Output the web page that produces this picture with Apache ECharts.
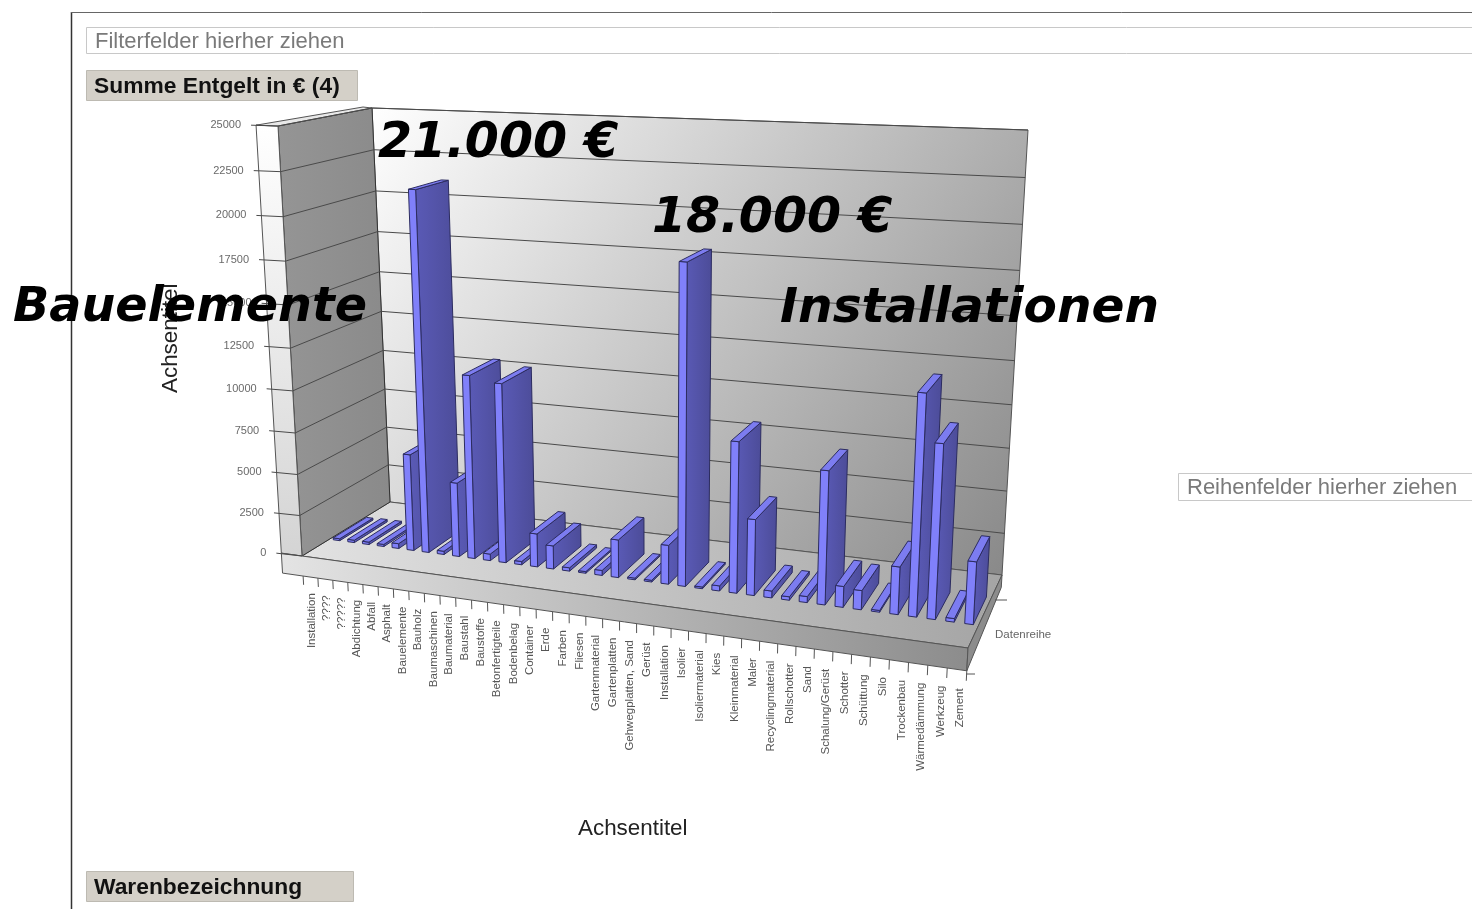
<!DOCTYPE html>
<html>
<head>
<meta charset="utf-8">
<title>Summe Entgelt</title>
<script src="https://cdn.jsdelivr.net/npm/echarts@6/dist/echarts.min.js"></script>
<style>
  html, body { margin: 0; padding: 0; background: #fff; overflow: hidden; }
  #chart { width: 1472px; height: 909px; }
</style>
</head>
<body>
<div id="chart"></div>
<script>
var categories = ['Installation', '????', '?????', 'Abdichtung', 'Abfall', 'Asphalt', 'Bauelemente', 'Bauholz',
  'Baumaschinen', 'Baumaterial', 'Baustahl', 'Baustoffe', 'Betonfertigteile', 'Bodenbelag', 'Container', 'Erde',
  'Farben', 'Fliesen', 'Gartenmaterial', 'Gartenplatten', 'Gehwegplatten, Sand', 'Gerüst', 'Installation', 'Isolier',
  'Isoliermaterial', 'Kies', 'Kleinmaterial', 'Maler', 'Recyclingmaterial', 'Rollschotter', 'Sand', 'Schalung/Gerüst',
  'Schotter', 'Schüttung', 'Silo', 'Trockenbau', 'Wärmedämmung', 'Werkzeug', 'Zement'];
var entgelt = [120, 150, 150, 130, 300, 5900, 21400, 200, 4500, 11000, 400, 10700, 200, 2000, 1400, 200,
  100, 300, 2250, 100, 100, 2300, 18300, 100, 300, 8700, 4400, 400, 200, 350, 7600, 1200,
  1100, 100, 2700, 12300, 9700, 200, 3500];
var yTicks = [0, 2500, 5000, 7500, 10000, 12500, 15000, 17500, 20000, 22500, 25000];

// corners of the chart box on screen: [u0v0, u1v0, u1v1, u0v1]
var frontQuad = [[302, 556], [968, 648], [994, 153], [278, 126]];
var backQuad = [[390, 502], [1002, 575], [1028, 130], [372, 108]];
var barDepth = [0.31, 0.69];
var barWidth = 0.45;
var stripU = -0.036;
var slabV = -0.05;

function makeHomography(q) {
  var dx1 = q[1][0] - q[2][0], dx2 = q[3][0] - q[2][0], sx = q[0][0] - q[1][0] + q[2][0] - q[3][0];
  var dy1 = q[1][1] - q[2][1], dy2 = q[3][1] - q[2][1], sy = q[0][1] - q[1][1] + q[2][1] - q[3][1];
  var den = dx1 * dy2 - dx2 * dy1;
  var g = (sx * dy2 - dx2 * sy) / den, h = (dx1 * sy - sx * dy1) / den;
  var a = q[1][0] - q[0][0] + g * q[1][0], b = q[3][0] - q[0][0] + h * q[3][0], c = q[0][0];
  var d = q[1][1] - q[0][1] + g * q[1][1], e = q[3][1] - q[0][1] + h * q[3][1], f = q[0][1];
  return function (u, v) {
    var w = g * u + h * v + 1;
    return [(a * u + b * v + c) / w, (d * u + e * v + f) / w];
  };
}
var front = makeHomography(frontQuad);
var back = makeHomography(backQuad);

// u along the categories, v up the value axis, t from front to back
function proj(u, v, t) {
  var p = front(u, v), q = back(u, v);
  return [p[0] + (q[0] - p[0]) * t, p[1] + (q[1] - p[1]) * t];
}
function grad(x, y, x2, y2, c1, c2) {
  return new echarts.graphic.LinearGradient(x, y, x2, y2, [{ offset: 0, color: c1 }, { offset: 1, color: c2 }]);
}
function poly(points, fill, stroke) {
  return { type: 'polygon', shape: { points: points }, style: { fill: fill, stroke: stroke || '#555', lineWidth: 1 } };
}
function line(points, color, width) {
  return { type: 'polyline', shape: { points: points }, style: { fill: null, stroke: color || '#555', lineWidth: width || 1 } };
}
function uiText(text, x, y, font, color) {
  return { type: 'text', z: 100, x: x, y: y, style: { text: text, font: font, fill: color, textVerticalAlign: 'middle' } };
}
function uiRect(x, y, w, h, fill, stroke) {
  return { type: 'rect', z: 99, shape: { x: x, y: y, width: w, height: h }, style: { fill: fill, stroke: stroke, lineWidth: 1 } };
}
function bigText(text, x, y, size) {
  return { type: 'text', z: 110, x: x, y: y, style: { text: text, font: 'italic bold ' + size + 'px "DejaVu Sans"', fill: '#000', textVerticalAlign: 'middle' } };
}

function renderFrame(params, api) {
  var cs = params.coordSys;
  var children = [];
  var vOf = function (value) { return 1 - (api.coord([0, value])[1] - cs.y) / cs.height; };

  children.push(poly([proj(0, 1, 1), proj(1, 1, 1), proj(1, 0, 1), proj(0, 0, 1)],
    grad(0, 0, 1, 1, '#ffffff', '#868686'), '#555'));
  children.push(poly([proj(0, 0, 0), proj(0, 0, 1), proj(1, 0, 1), proj(1, 0, 0)],
    grad(0, 0, 1, 0, '#e2e2e2', '#a4a4a4'), '#555'));
  children.push(poly([proj(0, 0, 0), proj(0, 1, 0), proj(0, 1, 1), proj(0, 0, 1)],
    grad(0, 0, 1, 0, '#959595', '#8a8a8a'), '#333'));
  children.push(poly([proj(stripU, 1, 0), proj(0, 1, 0), proj(0, 0, 0), proj(stripU, 0, 0)],
    grad(0, 0, 0, 1, '#ffffff', '#d4d4d4'), '#555'));
  children.push(poly([proj(stripU, 1, 0), proj(0, 1, 0), proj(0, 1, 1), [363, 107]], '#e8e8e8', '#555'));
  children.push(poly([proj(stripU, 0, 0), proj(1, 0, 0), proj(1, slabV, 0), proj(stripU, slabV, 0)],
    grad(0, 0, 1, 0, '#e4e4e4', '#8c8c8c'), '#555'));
  children.push(poly([proj(1, 0, 0), proj(1, 0, 1), proj(1, -0.03, 1), proj(1, slabV, 0)], '#8c8c8c', '#555'));

  yTicks.forEach(function (tick) {
    var v = vOf(tick);
    var edge = proj(stripU, v, 0);
    if (tick > 0) {
      children.push(line([proj(0, v, 0), proj(0, v, 1), proj(1, v, 1)], '#4a4a4a'));
    }
    children.push(line([[edge[0] - 5, edge[1]], proj(0, v, 0)], '#4a4a4a'));
    children.push({
      type: 'text', x: edge[0] - 15, y: edge[1],
      style: { text: String(tick), font: '11px "Liberation Sans"', fill: '#6a6a6a', textAlign: 'right', textVerticalAlign: 'middle' }
    });
  });

  var n = categories.length;
  for (var i = 0; i <= n; i++) {
    var tu = i / n;
    children.push(line([proj(tu, slabV, 0), proj(tu, slabV - 0.022, 0)], '#555'));
  }
  categories.forEach(function (name, idx) {
    var u = (api.coord([idx, 0])[0] - cs.x) / cs.width;
    var p = proj(u, slabV, 0);
    children.push({
      type: 'text', x: p[0] + 1 + 2 * u, y: p[1] + 16 + 3 * u, rotation: Math.PI / 2,
      style: { text: name, font: '11.5px "Liberation Sans"', fill: '#555', textAlign: 'right', textVerticalAlign: 'middle' }
    });
  });
  children.push(line([[995, 600], [1007, 600]], '#555'));
  children.push(line([[966, 674], [975, 674]], '#555'));
  return { type: 'group', children: children };
}

function renderBar(params, api) {
  var cs = params.coordSys;
  var c = api.coord([api.value(0), api.value(1)]);
  var half = api.size([1, 0])[0] * barWidth / 2;
  var u0 = (c[0] - half - cs.x) / cs.width, u1 = (c[0] + half - cs.x) / cs.width;
  var v = 1 - (c[1] - cs.y) / cs.height;
  var t0 = barDepth[0], t1 = barDepth[1];
  return {
    type: 'group',
    children: [
      poly([proj(u1, 0, t0), proj(u1, v, t0), proj(u1, v, t1), proj(u1, 0, t1)], grad(0, 0, 1, 0, '#5a5ab6', '#4c4c98'), '#2c2c60'),
      poly([proj(u0, 0, t0), proj(u1, 0, t0), proj(u1, v, t0), proj(u0, v, t0)], '#8080fa', '#2c2c60'),
      poly([proj(u0, v, t0), proj(u1, v, t0), proj(u1, v, t1), proj(u0, v, t1)], '#7c7cf0', '#2c2c60')
    ]
  };
}

var chart = echarts.init(document.getElementById('chart'), null, { renderer: 'canvas' });
chart.setOption({
  animation: false,
  backgroundColor: '#fff',
  grid: { left: 0, top: 0, width: 1000, height: 800, show: false },
  xAxis: { type: 'category', data: categories, show: false },
  yAxis: { type: 'value', min: 0, max: 25000, interval: 2500, show: false },
  series: [
    { type: 'custom', name: 'Rahmen', silent: true, z: 1, renderItem: renderFrame, data: [[0, 0]] },
    {
      type: 'custom', name: 'Summe Entgelt', silent: true, z: 2, renderItem: renderBar,
      encode: { x: 0, y: 1 },
      data: entgelt.map(function (value, i) { return [i, value]; })
    }
  ],
  graphic: {
    elements: [
      { type: 'line', z: 99, shape: { x1: 71.5, y1: 12, x2: 71.5, y2: 909 }, style: { stroke: '#333', lineWidth: 1.5 } },
      { type: 'line', z: 99, shape: { x1: 71, y1: 12.5, x2: 1472, y2: 12.5 }, style: { stroke: '#666', lineWidth: 1 } },
      uiRect(86.5, 27.5, 1400, 26, '#fff', '#c8c8c8'),
      uiText('Filterfelder hierher ziehen', 95, 42, '22px "Liberation Sans"', '#7a7a7a'),
      uiRect(86.5, 70.5, 271, 30, '#d4d0c8', '#bdbab2'),
      uiText('Summe Entgelt in € (4)', 94, 87, 'bold 22.8px "Liberation Sans"', '#111'),
      uiRect(86.5, 871.5, 267, 30, '#d4d0c8', '#bdbab2'),
      uiText('Warenbezeichnung', 94, 888, 'bold 22.8px "Liberation Sans"', '#111'),
      uiRect(1178.5, 473.5, 320, 27, '#fff', '#c8c8c8'),
      uiText('Reihenfelder hierher ziehen', 1187, 488, '22px "Liberation Sans"', '#7a7a7a'),
      uiText('Datenreihe', 995, 635, '11.5px "Liberation Sans"', '#666'),
      uiText('Achsentitel', 578, 829, '22.4px "Liberation Sans"', '#222'),
      { type: 'text', z: 100, x: 171, y: 393, rotation: Math.PI / 2, style: { text: 'Achsentitel', font: '22.4px "Liberation Sans"', fill: '#222', textVerticalAlign: 'middle' } },
      bigText('21.000 €', 378, 144, 49),
      bigText('18.000 €', 652, 219, 49),
      bigText('Bauelemente', 13, 309, 47.6),
      bigText('Installationen', 780, 309, 48.6)
    ]
  }
});
</script>
</body>
</html>
